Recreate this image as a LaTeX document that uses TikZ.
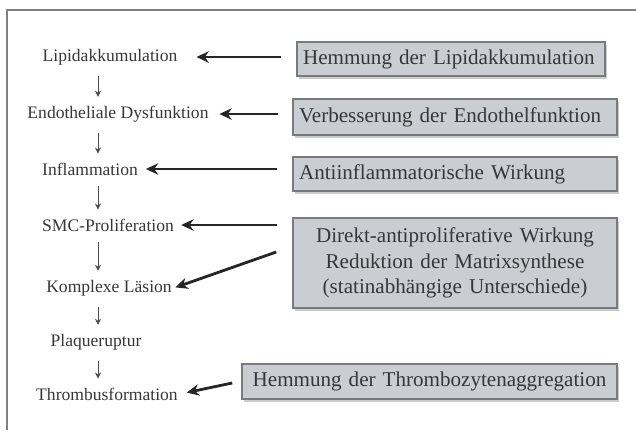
\documentclass[tikz,border=0pt]{standalone}
\usepackage{fontspec}
\setmainfont{Liberation Serif}
\usetikzlibrary{arrows.meta,shadows}

\definecolor{boxgray}{RGB}{202,205,209}
\definecolor{edgegray}{RGB}{120,122,126}
\definecolor{txtgray}{RGB}{55,55,58}

\tikzset{
  stage/.style={text=txtgray, font=\fontsize{10}{12}\selectfont, inner sep=1pt},
  effect/.style={fill=boxgray, draw=edgegray, line width=0.9pt, text=txtgray,
    font=\fontsize{12}{14.5}\selectfont, inner xsep=0.12cm, inner ysep=0pt,
    drop shadow={shadow xshift=1.2pt, shadow yshift=-1.8pt, fill=black!40, opacity=0.5}},
  step arrow/.style={-{Stealth[length=3.5pt,width=3.5pt]}, black!70, line width=0.5pt},
  act arrow/.style={-{Stealth[length=7pt,width=6.5pt]}, black!85, line width=1.6pt}
}

\begin{document}
\begin{tikzpicture}[x=0.02cm, y=-0.02cm]
  \useasboundingbox (0,0) rectangle (636,430);
  \draw[gray, line width=1pt] (7,430) -- (7,10) -- (636,10);

  % pathogenesis chain
  \node[stage] (lipid) at (110,57) {Lipidakkumulation};
  \node[stage] (endo) at (118,114) {Endotheliale Dysfunktion};
  \node[stage] (infl) at (90,169) {Inflammation};
  \node[stage] (smc) at (108,225) {SMC-Proliferation};
  \node[stage] (komp) at (109,288) {Komplexe L\"asion};
  \node[stage] (plaq) at (96,342) {Plaqueruptur};
  \node[stage] (thromb) at (107,394) {Thrombusformation};
  \coordinate (ax) at (98,0);

  \foreach \a/\b in {lipid/endo, endo/infl, infl/smc, smc/komp, komp/plaq, plaq/thromb}
    \draw[step arrow, shorten <=5pt, shorten >=4pt] (\a.south -| ax) -- (\b.north -| ax);

  % statin effects
  \node[effect, text width=5.92cm, align=left, minimum height=0.68cm] (e1) at (451,59)
    {Hemmung der Lipidakkumulation};
  \node[effect, text width=6.24cm, align=left, minimum height=0.72cm] (e2) at (455,117)
    {Verbesserung der Endothelfunktion};
  \node[effect, text width=6.24cm, align=left, minimum height=0.68cm] (e3) at (455,174)
    {Antiinflammatorische Wirkung};
  \node[effect, text width=6.24cm, align=center, minimum height=1.8cm] (e4) at (455,263)
    {Direkt-antiproliferative Wirkung\\Reduktion der Matrixsynthese\\(statinabh\"angige Unterschiede)};
  \node[effect, text width=7.26cm, align=center, minimum height=0.7cm] (e5) at (429.5,381.5)
    {Hemmung der Thrombozytenaggregation};

  \draw[act arrow, shorten <=8.5pt, shorten >=9.7pt] (e1.west |- lipid.east) -- (lipid.east);
  \draw[act arrow, shorten <=8pt, shorten >=5pt] (e2.west |- endo.east) -- (endo.east);
  \draw[act arrow, shorten <=8.5pt, shorten >=3.4pt] (e3.west |- infl.east) -- (infl.east);
  \draw[act arrow, shorten <=8.5pt, shorten >=3pt] (e4.west |- smc.east) -- (smc.east);
  \draw[act arrow, shorten >=1pt] ([shift={(-16,-11)}]e4.west) -- (komp.east);
  \draw[act arrow, shorten >=4pt] ([shift={(-9,1.5)}]e5.west) -- (thromb.east);
\end{tikzpicture}
\end{document}
